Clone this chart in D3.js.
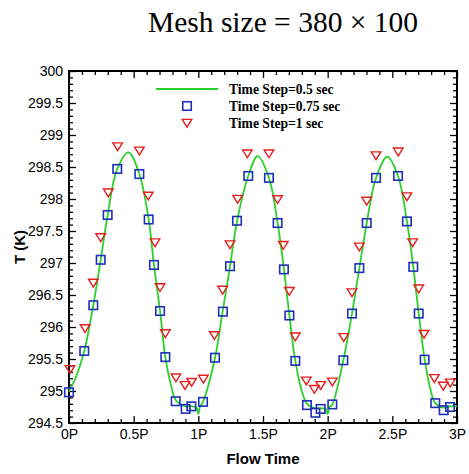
<!DOCTYPE html>
<html>
<head>
<meta charset="utf-8">
<script src="https://cdn.jsdelivr.net/npm/d3@7"></script>
<style>
  html, body { margin: 0; padding: 0; background: #fff; }
  svg { display: block; }
  .tick text { font-family: "Liberation Sans", Arial, sans-serif; font-size: 14px; fill: #000; }
  .domain { display: none; }
</style>
</head>
<body>
<svg id="chart" width="469" height="474"></svg>
<script>
// ---- data (t in periods P, T in K) ----
const lineT = [0, 0.06, 0.118, 0.188, 0.245, 0.299, 0.373, 0.46, 0.544, 0.616, 0.657, 0.704, 0.745, 0.79, 0.825, 0.9, 0.946, 0.985, 1.0, 1.012, 1.036, 1.129, 1.188, 1.245, 1.3, 1.386, 1.459, 1.546, 1.613, 1.662, 1.704, 1.75, 1.8, 1.84, 1.905, 1.946, 1.985, 2.0, 2.012, 2.036, 2.121, 2.188, 2.245, 2.302, 2.374, 2.461, 2.544, 2.613, 2.662, 2.704, 2.75, 2.795, 2.832, 2.897, 2.946, 3.0]
const lineV = [294.99, 295.25, 295.625, 296.34, 297.05, 297.75, 298.47, 298.73, 298.39, 297.68, 296.97, 296.25, 295.53, 295.08, 294.86, 294.76, 294.76, 294.74, 294.64, 294.75, 294.83, 295.52, 296.24, 296.95, 297.66, 298.36, 298.67, 298.33, 297.625, 296.9, 296.18, 295.47, 295.0, 294.8, 294.73, 294.73, 294.72, 294.64, 294.74, 294.79, 295.48, 296.21, 296.92, 297.625, 298.33, 298.66, 298.36, 297.65, 296.94, 296.21, 295.49, 295.02, 294.81, 294.74, 294.76, 294.76]

const sqT = [0, 0.118, 0.188, 0.245, 0.299, 0.373, 0.544, 0.616, 0.657, 0.704, 0.745, 0.825, 0.902, 0.946, 1.036, 1.129, 1.19, 1.245, 1.299, 1.386, 1.546, 1.613, 1.662, 1.704, 1.75, 1.84, 1.905, 1.946, 2.036, 2.121, 2.188, 2.245, 2.302, 2.374, 2.544, 2.613, 2.662, 2.704, 2.75, 2.832, 2.897, 2.946]
const sqV = [294.98, 295.625, 296.34, 297.05, 297.75, 298.47, 298.39, 297.68, 296.97, 296.25, 295.53, 294.84, 294.72, 294.76, 294.83, 295.52, 296.24, 296.95, 297.66, 298.36, 298.33, 297.625, 296.9, 296.18, 295.47, 294.78, 294.66, 294.72, 294.79, 295.48, 296.21, 296.92, 297.625, 298.33, 298.36, 297.65, 296.94, 296.21, 295.49, 294.81, 294.70, 294.75]

const triT = [0.008, 0.124, 0.188, 0.245, 0.304, 0.376, 0.544, 0.613, 0.665, 0.704, 0.745, 0.827, 0.897, 0.948, 1.039, 1.124, 1.188, 1.245, 1.304, 1.379, 1.546, 1.613, 1.657, 1.704, 1.75, 1.835, 1.897, 1.946, 2.036, 2.124, 2.188, 2.245, 2.302, 2.374, 2.546, 2.613, 2.657, 2.704, 2.745, 2.825, 2.894, 2.948]
const triV = [295.34, 295.98, 296.69, 297.40, 298.10, 298.82, 298.755, 298.05, 297.32, 296.62, 295.90, 295.21, 295.09, 295.14, 295.19, 295.87, 296.58, 297.29, 298.0, 298.71, 298.71, 297.995, 297.28, 296.56, 295.85, 295.16, 295.03, 295.09, 295.145, 295.84, 296.54, 297.255, 297.97, 298.68, 298.74, 298.04, 297.32, 296.60, 295.89, 295.20, 295.08, 295.13]

const xTicks = [0, 0.5, 1, 1.5, 2, 2.5, 3]
const yTicks = [294.5, 295, 295.5, 296, 296.5, 297, 297.5, 298, 298.5, 299, 299.5, 300]
const legendLabels = ['Time Step=0.5 sec', 'Time Step=0.75 sec', 'Time Step=1 sec']

const GREEN = '#2bd12b', BLUE = '#1f2fb8', RED = '#e41e1e'
const MARGIN = { top: 71, right: 12, bottom: 51, left: 69 }
const width = 469, height = 474
const boundedWidth = width - MARGIN.left - MARGIN.right
const boundedHeight = height - MARGIN.top - MARGIN.bottom

const $svg = d3.select('#chart')

$svg.append('text')
    .attr('x', 283).attr('y', 32)
    .attr('text-anchor', 'middle')
    .style('font-family', '"Liberation Serif", "Times New Roman", serif')
    .style('font-size', '29.5px')
    .text('Mesh size = 380 \u00d7 100')

const $g = $svg.append('g').attr('transform', `translate(${MARGIN.left},${MARGIN.top})`)

const xScale = d3.scaleLinear().domain([0, 3]).range([0, boundedWidth])
const yScale = d3.scaleLinear().domain([294.5, 300]).range([boundedHeight, 0])

const xMinor = d3.range(0, 31).map(d => d / 10).filter(d => Math.round(d * 10) % 5 !== 0)
const yMinor = d3.range(0, 56).map(d => 294.5 + d / 10).filter(d => Math.round(d * 10) % 5 !== 0)

// axes (ticks point inwards on all four sides)
$g.append('g').attr('class', 'x-axis')
    .attr('transform', `translate(0,${boundedHeight})`)
    .call(d3.axisBottom(xScale).tickValues(xTicks).tickSize(-7).tickPadding(15).tickFormat(d => `${d}P`))
$g.append('g').attr('transform', `translate(0,${boundedHeight})`)
    .call(d3.axisBottom(xScale).tickValues(xMinor).tickSize(-4).tickFormat(''))
$g.append('g').call(d3.axisTop(xScale).tickValues(xTicks).tickSize(-7).tickFormat(''))
$g.append('g').call(d3.axisTop(xScale).tickValues(xMinor).tickSize(-4).tickFormat(''))

$g.append('g').attr('class', 'y-axis')
    .call(d3.axisLeft(yScale).tickValues(yTicks).tickSize(-7).tickPadding(6).tickFormat(d3.format('')))
$g.append('g').call(d3.axisLeft(yScale).tickValues(yMinor).tickSize(-4).tickFormat(''))
$g.append('g').attr('transform', `translate(${boundedWidth},0)`)
    .call(d3.axisRight(yScale).tickValues(yTicks).tickSize(-7).tickFormat(''))
$g.append('g').attr('transform', `translate(${boundedWidth},0)`)
    .call(d3.axisRight(yScale).tickValues(yMinor).tickSize(-4).tickFormat(''))

$g.selectAll('.tick line').attr('stroke', '#000').attr('stroke-width', 1.3)
$g.selectAll('.x-axis .tick text').attr('dy', '0.1em')

$g.append('rect')
    .attr('width', boundedWidth).attr('height', boundedHeight)
    .attr('fill', 'none').attr('stroke', '#000').attr('stroke-width', 2)

// series
const lineGen = d3.line()
    .x(i => xScale(lineT[i]))
    .y(i => yScale(lineV[i]))
    .curve(d3.curveCatmullRom.alpha(0.5))

$g.append('path')
    .datum(d3.range(lineT.length))
    .attr('d', lineGen)
    .attr('fill', 'none')
    .attr('stroke', GREEN)
    .attr('stroke-width', 1.8)

const SQ = 8.5
$g.selectAll('.sq').data(d3.range(sqT.length)).join('rect')
    .attr('class', 'sq')
    .attr('x', i => xScale(sqT[i]) - SQ / 2)
    .attr('y', i => yScale(sqV[i]) - SQ / 2)
    .attr('width', SQ).attr('height', SQ)
    .attr('fill', 'none').attr('stroke', BLUE).attr('stroke-width', 1.6)

const triPath = 'M-4.8,-3.6L4.8,-3.6L0,4.2Z'
$g.selectAll('.tri').data(d3.range(triT.length)).join('path')
    .attr('class', 'tri')
    .attr('transform', i => `translate(${xScale(triT[i])},${yScale(triV[i])})`)
    .attr('d', triPath)
    .attr('fill', 'none').attr('stroke', RED).attr('stroke-width', 1.4)

// legend
const legend = $svg.append('g').attr('class', 'legend')
const rowY = [89, 106, 123]
legend.append('line')
    .attr('x1', 156).attr('x2', 218).attr('y1', rowY[0]).attr('y2', rowY[0])
    .attr('stroke', GREEN).attr('stroke-width', 2)
legend.append('rect')
    .attr('x', 187 - SQ / 2).attr('y', rowY[1] - SQ / 2).attr('width', SQ).attr('height', SQ)
    .attr('fill', 'none').attr('stroke', BLUE).attr('stroke-width', 1.6)
legend.append('path')
    .attr('transform', `translate(187,${rowY[2]})`)
    .attr('d', triPath)
    .attr('fill', 'none').attr('stroke', RED).attr('stroke-width', 1.4)
legend.selectAll('text').data(legendLabels).join('text')
    .attr('x', 229).attr('y', (d, i) => rowY[i] + 4.5)
    .style('font-family', '"Liberation Serif", "Times New Roman", serif')
    .style('font-weight', 'bold')
    .style('font-size', '13.6px')
    .text(d => d)

// axis titles
$svg.append('text')
    .attr('x', 263).attr('y', 464)
    .attr('text-anchor', 'middle')
    .style('font-family', '"Liberation Sans", Arial, sans-serif')
    .style('font-weight', 'bold').style('font-size', '15px')
    .text('Flow Time')
$svg.append('text')
    .attr('transform', 'translate(25,247) rotate(-90)')
    .attr('text-anchor', 'middle')
    .style('font-family', '"Liberation Sans", Arial, sans-serif')
    .style('font-weight', 'bold').style('font-size', '15px')
    .text('T (K)')
</script>
</body>
</html>
